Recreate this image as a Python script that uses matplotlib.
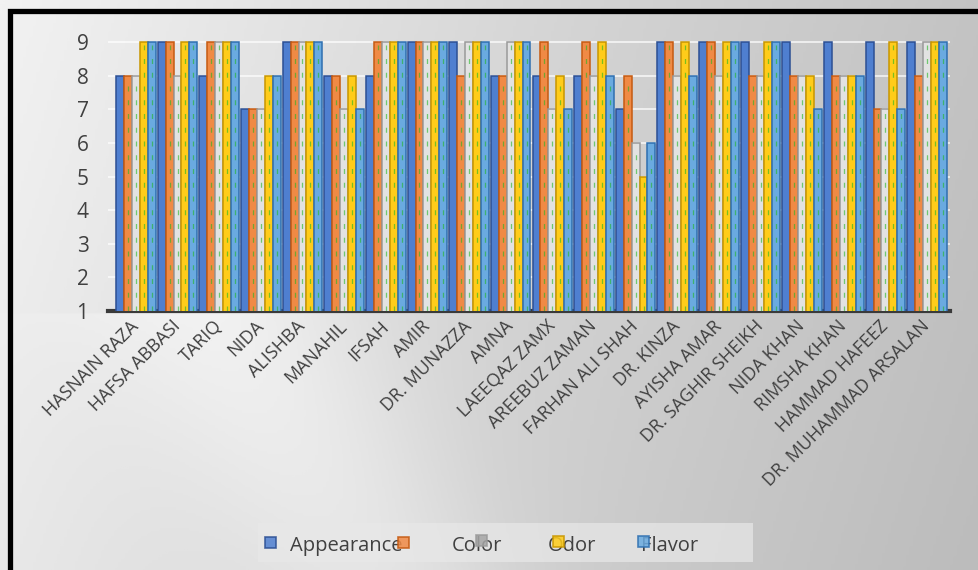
import matplotlib.pyplot as plt
import numpy as np
from matplotlib.patches import Rectangle
from matplotlib.colors import LinearSegmentedColormap

plt.rcParams['font.family'] = ['Open Sans', 'DejaVu Sans']

names = ['HASNAIN RAZA', 'HAFSA ABBASI', 'TARIQ', 'NIDA', 'ALISHBA', 'MANAHIL',
         'IFSAH', 'AMIR', 'DR. MUNAZZA', 'AMNA', 'LAEEQAZ ZAMX', 'AREEBUZ ZAMAN',
         'FARHAN ALI SHAH', 'DR. KINZA', 'AYISHA AMAR', 'DR. SAGHIR SHEIKH',
         'NIDA KHAN', 'RIMSHA KHAN', 'HAMMAD HAFEEZ', 'DR. MUHAMMAD ARSALAN']

appearance = [8, 9, 8, 7, 9, 8, 8, 9, 9, 8, 8, 8, 7, 9, 9, 9, 9, 9, 9, 9]
color      = [8, 9, 9, 7, 9, 8, 9, 9, 8, 8, 9, 9, 8, 9, 9, 8, 8, 8, 7, 8]
third      = [8, 8, 9, 7, 9, 7, 9, 9, 9, 9, 7, 8, 6, 8, 8, 8, 8, 8, 7, 9]
odor       = [9, 9, 9, 8, 9, 8, 9, 9, 9, 9, 8, 9, 5, 9, 9, 9, 8, 8, 9, 9]
flavor     = [9, 9, 9, 8, 9, 7, 9, 9, 9, 9, 7, 8, 6, 8, 9, 9, 7, 8, 7, 9]

series = [appearance, color, third, odor, flavor]
faces = ['#4f7fd0', '#f08a45', '#e2e2e2', '#ffcc1a', '#6aaae0']
edges = ['#2c4f93', '#c55a11', '#9a9a9a', '#c89600', '#2e6fb0']
legend_labels = ['Appearance', 'Color', 'Odor', 'Flavor']

W, H = 979, 570
fig = plt.figure(figsize=(W / 100, H / 100), dpi=100)
fig.patch.set_facecolor('white')

# gradient background (light top-left, grey to the right)
bg = fig.add_axes([0, 0, 1, 1], zorder=-10)
gx = np.linspace(0, 1, 300)
gy = np.linspace(0, 1, 200)
GX, GY = np.meshgrid(gx, gy)
grad = 0.8 * GX + 0.15 * GY
streak = np.exp(-((GX - 0.25) - 0.35 * (GY - 0.6)) ** 2 / 0.02) * (GY > 0.55) * 0.25
grad = np.clip(grad - streak, 0, 1)
cmap = LinearSegmentedColormap.from_list('bgc', ['#f2f2f2', '#d4d4d4', '#bcbcbc'])
bg.imshow(grad, cmap=cmap, aspect='auto', extent=[0, 1, 0, 1], origin='upper')
bg.set_xlim(0, 1)
bg.set_ylim(0, 1)
bg.axis('off')

# black frame
fig.patches.append(Rectangle((10 / W, -0.05), 1.0, 1.05 - 11 / H,
                             transform=fig.transFigure, fill=False,
                             edgecolor='black', lw=3.8))

ax = fig.add_axes([108 / W, (H - 311) / H, 842 / W, 273 / H])
ax.set_facecolor('none')

x = np.arange(len(names))
w = 0.19
for i, vals in enumerate(series):
    pos = x + (i - 2) * w
    ax.bar(pos, vals, width=w, color=faces[i], edgecolor=edges[i], linewidth=1.1, zorder=3)
    if i > 0:
        ax.vlines(pos, 1, np.array(vals) - 0.1, colors='#22b822', linestyles=(0, (4, 7)),
                  linewidth=0.9, alpha=0.6, zorder=4)

ax.set_xlim(-0.67, 19.55)
ax.set_ylim(1, 9.12)
ax.set_yticks(range(1, 10))
ax.yaxis.grid(True, color='white', lw=1.2, alpha=0.8)
ax.set_axisbelow(True)
for s in ['top', 'right', 'left']:
    ax.spines[s].set_visible(False)
ax.spines['bottom'].set_color('#3a3a3a')
ax.spines['bottom'].set_linewidth(3)
ax.tick_params(axis='y', length=0, pad=14, labelsize=15, labelcolor='#404040')
ax.set_xticks(x)
ax.set_xticklabels(names, rotation=45, ha='right', va='center', rotation_mode='anchor')
ax.tick_params(axis='x', length=0, pad=9, labelsize=13, labelcolor='#404040')

# legend, drawn as in the original (markers and labels out of step)
fig.patches.append(Rectangle((258 / W, 1 - 562 / H), 495 / W, 39 / H,
                             transform=fig.transFigure, facecolor='#e8e8e8',
                             edgecolor='none', alpha=0.7))
marker_x = [271, 404, 482, 559, 644]
marker_y = [542, 542, 540, 541, 541]
for i in range(5):
    fig.patches.append(Rectangle(((marker_x[i] - 5.5) / W, 1 - (marker_y[i] + 5.5) / H),
                                 11 / W, 11 / H, transform=fig.transFigure,
                                 facecolor=faces[i] if i != 2 else '#a5a5a5',
                                 edgecolor=edges[i], lw=1.2, alpha=0.85, zorder=5))
text_x = [290, 452, 548, 641]
for t, tx in zip(legend_labels, text_x):
    fig.text(tx / W, 1 - 546 / H, t, fontsize=14.5, color='#404040', va='center', ha='left')

fig.savefig('out.png', dpi=100)
